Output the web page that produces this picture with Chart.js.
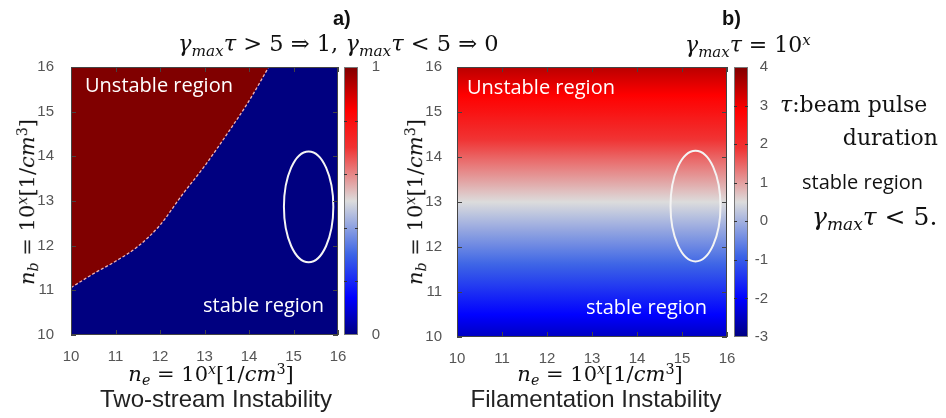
<!DOCTYPE html>
<html>
<head>
<meta charset="utf-8">
<script src="https://cdn.jsdelivr.net/npm/chart.js@4/dist/chart.umd.min.js"></script>
<style>
body {margin: 0; background: #fff;}
#fig {position: relative; width: 946px; height: 418px; overflow: hidden;
      font-family: "Liberation Sans", Arial, sans-serif;}
canvas {position: absolute; top: 0;}
.t {position: absolute; white-space: nowrap; line-height: 1;}
.c {transform: translateX(-50%);}
.r {transform: translate(-50%, -50%) rotate(-90deg);}
.m {font-family: "DejaVu Serif", "Liberation Serif", serif; color: #111;}
.sub {font-size: 0.68em; vertical-align: -0.3em;}
.sup {font-size: 0.68em; vertical-align: 0.5em;}
.reg {color: #fff; font-size: 20px; font-family: "Open Sans", sans-serif;}
.cap {font-size: 24px; color: #222;}
.lab {font-size: 20px; font-weight: bold; color: #111;}
</style>
</head>
<body>
<div id="fig">
  <canvas id="a" width="400" height="372" style="left:0"></canvas>
  <canvas id="b" width="546" height="372" style="left:400px"></canvas>

  <div class="t lab" style="left:333px;top:8px">a)</div>
  <div class="t m" style="left:178px;top:32px;font-size:22.5px"><i>γ</i><span class="sub"><i>max</i></span><i>τ</i> &gt; 5 ⇒ 1, <i>γ</i><span class="sub"><i>max</i></span><i>τ</i> &lt; 5 ⇒ 0</div>
  <div class="t lab" style="left:722px;top:8px">b)</div>
  <div class="t m" style="left:685px;top:33px;font-size:22px"><i>γ</i><span class="sub"><i>max</i></span><i>τ</i> = 10<span class="sup"><i>x</i></span></div>

  <div class="t reg" style="left:85px;top:75px">Unstable region</div>
  <div class="t reg" style="left:203px;top:295px">stable region</div>
  <div class="t reg" style="left:467px;top:77px">Unstable region</div>
  <div class="t reg" style="left:586px;top:297px">stable region</div>

  <div class="t m r" style="left:28px;top:202px;font-size:21px"><i>n</i><span class="sub"><i>b</i></span> = 10<span class="sup"><i>x</i></span>[1/<i>cm</i><span class="sup">3</span>]</div>
  <div class="t m r" style="left:416px;top:202px;font-size:21px"><i>n</i><span class="sub"><i>b</i></span> = 10<span class="sup"><i>x</i></span>[1/<i>cm</i><span class="sup">3</span>]</div>
  <div class="t m c" style="left:211px;top:362px;font-size:21px"><i>n</i><span class="sub"><i>e</i></span> = 10<span class="sup"><i>x</i></span>[1/<i>cm</i><span class="sup">3</span>]</div>
  <div class="t m c" style="left:600px;top:362px;font-size:21px"><i>n</i><span class="sub"><i>e</i></span> = 10<span class="sup"><i>x</i></span>[1/<i>cm</i><span class="sup">3</span>]</div>
  <div class="t cap c" style="left:216px;top:387px">Two-stream Instability</div>
  <div class="t cap c" style="left:596px;top:387px">Filamentation Instability</div>

  <div class="t m" style="left:780px;top:94px;font-size:22px"><i>τ</i>:beam pulse</div>
  <div class="t m" style="right:8px;top:127px;font-size:22px">duration</div>
  <div class="t" style="left:802px;top:172px;font-size:20px;color:#111;font-family:'Open Sans',sans-serif">stable region</div>
  <div class="t m" style="left:812px;top:204px;font-size:25px"><i>γ</i><span class="sub"><i>max</i></span><i>τ</i> &lt; 5.</div>
</div>
<script>
// Axes (log10 of densities)
const neTicks = [10, 11, 12, 13, 14, 15, 16];
const nbTicks = [10, 11, 12, 13, 14, 15, 16];

// a) two-stream: boundary where gamma_max * tau = 5
const neBoundary = [10, 10.5, 11, 11.5, 12, 12.5, 13, 13.5, 14, 14.5];
const nbBoundary = [11.06, 11.37, 11.65, 11.98, 12.46, 13.14, 13.78, 14.49, 15.24, 16.1];
const stableValue = 0, unstableValue = 1;
const cbTicksA = [0, 0.2, 0.4, 0.6, 0.8, 1];
const cbLabelsA = ['0', '', '', '', '', '1'];

// b) filamentation: log10(gamma_max * tau) along nb
const nbRows = [10, 11, 12, 13, 14, 15, 16];
const logGammaTau = [-2.5, -1.5, -0.5, 0.5, 1.5, 2.5, 3.5];
const cbTicksB = [-3, -2, -1, 0, 1, 2, 3, 4];
const cbLabelsB = ['-3', '-2', '-1', '0', '1', '2', '3', '4'];

// Marked stable zone: [ne, nb, half-width ne, half-height nb]
const ellipseA = [15.34, 12.87, 0.555, 1.24];
const ellipseB = [15.30, 12.91, 0.555, 1.23];

// Blue-white-red colour map (position, rgb).
const cmapStops = [
    [0, [0, 0, 128]], [0.14, [0, 0, 255]], [0.3, [60, 100, 230]],
    [0.5, [220, 220, 220]], [0.7, [240, 50, 50]], [0.84, [255, 0, 0]],
    [1, [128, 0, 0]],
];

function cmap(t) {
    t = Math.min(1, Math.max(0, t));
    let i = 1;
    while (i < cmapStops.length - 1 && cmapStops[i][0] < t) i++;
    const [t0, c0] = cmapStops[i - 1], [t1, c1] = cmapStops[i];
    const f = (t - t0) / (t1 - t0);
    return `rgb(${c0.map((c, k) => Math.round(c + (c1[k] - c) * f)).join(',')})`;
}

// Paint the map behind the datasets.
const heat = {
    id: 'heat',
    beforeDatasetsDraw(chart, args, o) {
        const {ctx, chartArea: a, scales: {y, cb}} = chart;
        const norm = v => (v - cb.min) / (cb.max - cb.min);
        ctx.save();
        if (o.rows) {
            const y0 = y.getPixelForValue(o.rows[0]);
            const y1 = y.getPixelForValue(o.rows.at(-1));
            const g = ctx.createLinearGradient(0, y0, 0, y1);
            for (let i = 0; i < o.rows.length - 1; i++) {
                for (let k = 0; k < 8; k++) {
                    const f = k / 8;
                    const r = o.rows[i] + (o.rows[i + 1] - o.rows[i]) * f;
                    const v = o.values[i] + (o.values[i + 1] - o.values[i]) * f;
                    g.addColorStop((y.getPixelForValue(r) - y0) / (y1 - y0), cmap(norm(v)));
                }
            }
            g.addColorStop(1, cmap(norm(o.values.at(-1))));
            ctx.fillStyle = g;
        } else {
            ctx.fillStyle = cmap(norm(o.fill));
        }
        ctx.fillRect(a.left, a.top, a.width, a.height);
        ctx.restore();
    },
};

// Ellipse, frame with inward ticks, and the colour bar.
const frame = {
    id: 'frame',
    afterDraw(chart, args, o) {
        const {ctx, chartArea: a, scales: {x, y, cb}} = chart;
        ctx.save();
        const [ex, ey, rx, ry] = o.ellipse;
        const cx = x.getPixelForValue(ex), cy = y.getPixelForValue(ey);
        ctx.strokeStyle = '#f4f4f4';
        ctx.lineWidth = 2;
        ctx.beginPath();
        ctx.ellipse(cx, cy, x.getPixelForValue(ex + rx) - cx,
                    cy - y.getPixelForValue(ey + ry), 0, 0, 2 * Math.PI);
        ctx.stroke();

        ctx.strokeStyle = '#444';
        ctx.lineWidth = 1;
        ctx.strokeRect(a.left + 0.5, a.top + 0.5, a.width - 1, a.height - 1);
        ctx.beginPath();
        for (const t of x.ticks) {
            const px = Math.round(x.getPixelForValue(t.value)) + 0.5;
            ctx.moveTo(px, a.top); ctx.lineTo(px, a.top + 5);
            ctx.moveTo(px, a.bottom); ctx.lineTo(px, a.bottom - 5);
        }
        for (const t of y.ticks) {
            const py = Math.round(y.getPixelForValue(t.value)) + 0.5;
            ctx.moveTo(a.left, py); ctx.lineTo(a.left + 5, py);
            ctx.moveTo(a.right, py); ctx.lineTo(a.right - 5, py);
        }
        ctx.stroke();

        const l = a.right + o.cbGap, w = o.cbWidth;
        const g = ctx.createLinearGradient(0, cb.bottom, 0, cb.top);
        for (const [t, c] of cmapStops) g.addColorStop(t, `rgb(${c})`);
        ctx.fillStyle = g;
        ctx.fillRect(l, cb.top, w, cb.bottom - cb.top);
        ctx.strokeStyle = '#777';
        ctx.strokeRect(l + 0.5, cb.top + 0.5, w - 1, cb.bottom - cb.top - 1);
        ctx.strokeStyle = '#333';
        ctx.beginPath();
        for (const t of cb.ticks.slice(1, -1)) {
            const py = Math.round(cb.getPixelForValue(t.value)) + 0.5;
            ctx.moveTo(l, py); ctx.lineTo(l + 3, py);
            ctx.moveTo(l + w, py); ctx.lineTo(l + w - 3, py);
        }
        ctx.stroke();
        ctx.restore();
    },
};

const tickFont = {color: '#555', font: {family: 'Liberation Sans', size: 15}};
const noGrid = {grid: {display: false, drawTicks: false}, border: {display: false}};

// cbW: colour-bar axis width; labels are right-aligned at its right edge.
function panelOptions({xH, yW, yPad, cbW, padRight, cbMin, cbMax, cbTicks, cbLabels, heat, frame}) {
    return {
        responsive: false, animation: false,
        layout: {padding: {top: 67, left: 0, right: padRight, bottom: 0}},
        plugins: {legend: {display: false}, tooltip: {enabled: false}, heat, frame},
        scales: {
            x: {
                type: 'linear', min: 10, max: 16, ...noGrid,
                afterBuildTicks: s => { s.ticks = neTicks.map(value => ({value})); },
                ticks: {...tickFont, padding: 13, maxRotation: 0, autoSkip: false},
                afterFit: s => { s.height = xH; },
            },
            y: {
                type: 'linear', min: 10, max: 16, ...noGrid,
                afterBuildTicks: s => { s.ticks = nbTicks.map(value => ({value})); },
                ticks: {...tickFont, padding: yPad, autoSkip: false},
                afterFit: s => { s.width = yW; },
            },
            cb: {
                type: 'linear', position: 'right', min: cbMin, max: cbMax, ...noGrid,
                afterBuildTicks: s => { s.ticks = cbTicks.map(value => ({value})); },
                ticks: {...tickFont, padding: 20, crossAlign: 'far', autoSkip: false,
                        callback: (v, i) => cbLabels[i]},
                afterFit: s => { s.width = cbW; },
            },
        },
    };
}

new Chart(document.getElementById('a'), {
    type: 'line',
    data: {
        datasets: [{
            data: neBoundary.map((x, i) => ({x, y: nbBoundary[i]})),
            fill: 'end',
            backgroundColor: cmap(unstableValue),
            borderColor: '#f0b4b4',
            borderWidth: 1.3,
            borderDash: [3, 2],
            pointRadius: 0,
            cubicInterpolationMode: 'monotone',
        }],
    },
    options: panelOptions({
        xH: 37, yW: 71, yPad: 17, cbW: 42, padRight: 20,
        cbMin: 0, cbMax: 1, cbTicks: cbTicksA, cbLabels: cbLabelsA,
        heat: {fill: stableValue},
        frame: {ellipse: ellipseA, cbGap: 6, cbWidth: 14},
    }),
    plugins: [heat, frame],
});

new Chart(document.getElementById('b'), {
    type: 'line',
    data: {datasets: []},
    options: panelOptions({
        xH: 35, yW: 57, yPad: 15, cbW: 41, padRight: 178,
        cbMin: -3, cbMax: 4, cbTicks: cbTicksB, cbLabels: cbLabelsB,
        heat: {rows: nbRows, values: logGammaTau},
        frame: {ellipse: ellipseB, cbGap: 7, cbWidth: 14},
    }),
    plugins: [heat, frame],
});
</script>
</body>
</html>
